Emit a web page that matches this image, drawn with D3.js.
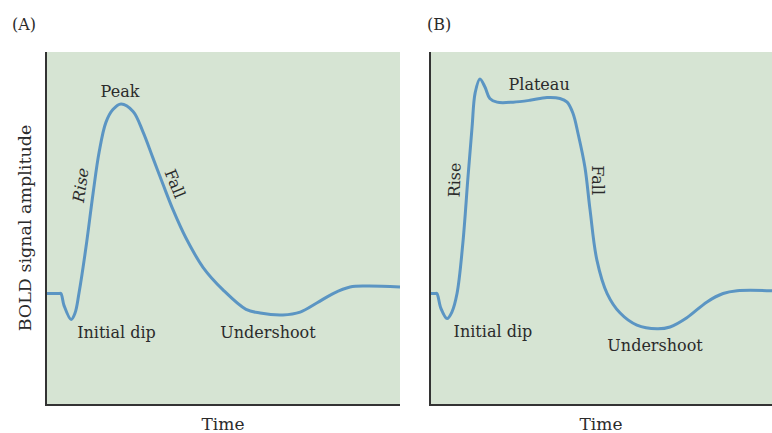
<!DOCTYPE html>
<html>
<head>
<meta charset="utf-8">
<script src="https://cdn.jsdelivr.net/npm/d3@7"></script>
<style>
  body { margin: 0; background: #fff; }
  svg text { font-family: "DejaVu Serif", serif; fill: #2b2b2b; }
</style>
</head>
<body>
<div class="container"></div>
<script>
"use strict";

var width = 772;
var height = 433;

// Time in arbitrary units (0-100), amplitude relative to baseline (0)
var peakTime = [0, 3.6, 4.2, 5.1, 7.1, 8.2, 9.3, 11.3, 13.3, 15.0, 16.9, 18.9, 21.2, 24.6, 27.4, 30.2,
    33.1, 35.9, 39.5, 44.4, 50.0, 56.5, 60.5, 66.9, 71.8, 76.6, 81.1, 85.9, 90.7, 100];
var peakAmp = [0, 0, 0, -0.065, -0.14, -0.105, 0, 0.25, 0.54, 0.76, 0.92, 0.99, 1.02, 0.98, 0.87, 0.73,
    0.585, 0.45, 0.30, 0.14, 0.02, -0.085, -0.105, -0.115, -0.10, -0.05, 0, 0.035, 0.04, 0.035];

var plateauTime = [0, 1.5, 2.0, 3.2, 5.0, 6.4, 7.9, 9.6, 11.1, 12.3, 13.2, 14.6, 16.1, 17.5, 19.6, 24.3,
    29.2, 34.2, 38.0, 40.1, 41.8, 43.3, 45.3, 46.8, 48.8, 51.8, 55.6, 60.5, 66.4, 70.2, 75.1,
    81.0, 85.7, 89.8, 100];
var plateauAmp = [0, 0, 0, -0.08, -0.135, -0.10, 0, 0.27, 0.625, 0.895, 1.08, 1.155, 1.11, 1.05, 1.03, 1.03,
    1.04, 1.055, 1.05, 1.03, 0.97, 0.86, 0.68, 0.45, 0.18, 0, -0.105, -0.17, -0.19, -0.18, -0.13,
    -0.045, 0, 0.015, 0.015];

var panelLabels = ["(A)", "(B)"];
var xLabel = "Time";
var yLabel = "BOLD signal amplitude";

var svg = d3.select(".container").append("svg")
    .attr("width", width)
    .attr("height", height);

var y = d3.scaleLinear().domain([-0.6, 1.3]).range([405, 52]);

function drawPanel(x0, x1, times, amps, label, labelX) {
    var x = d3.scaleLinear().domain([0, 100]).range([x0, x1]);
    var g = svg.append("g");

    g.append("rect")
        .attr("x", x0)
        .attr("y", y.range()[1])
        .attr("width", x1 - x0)
        .attr("height", y.range()[0] - y.range()[1])
        .attr("fill", "#d6e4d3");

    var line = d3.line()
        .x(function(d, i) { return x(times[i]); })
        .y(function(d) { return y(d); })
        .curve(d3.curveCatmullRom.alpha(0.5));

    g.append("path")
        .datum(amps)
        .attr("d", line)
        .attr("fill", "none")
        .attr("stroke", "#5b95c3")
        .attr("stroke-width", 3);

    // axes: left and bottom only
    g.append("line")
        .attr("x1", x0).attr("x2", x0)
        .attr("y1", y.range()[1]).attr("y2", y.range()[0])
        .attr("stroke", "#333").attr("stroke-width", 2);
    g.append("line")
        .attr("x1", x0 - 1).attr("x2", x1)
        .attr("y1", y.range()[0]).attr("y2", y.range()[0])
        .attr("stroke", "#333").attr("stroke-width", 2);

    g.append("text")
        .attr("x", labelX)
        .attr("y", 30)
        .style("font-size", "16px")
        .text(label);

    g.append("text")
        .attr("x", (x0 + x1) / 2)
        .attr("y", 430)
        .attr("text-anchor", "middle")
        .style("font-size", "17px")
        .text(xLabel);

    return {g: g, x: x};
}

function note(g, px, py, angle, txt) {
    return g.append("text")
        .attr("transform", "translate(" + px + "," + py + ") rotate(" + angle + ")")
        .attr("text-anchor", "middle")
        .style("font-size", "16px")
        .text(txt);
}

var a = drawPanel(46, 400, peakTime, peakAmp, panelLabels[0], 12);
note(a.g, a.x(20.9), y(1.058), 0, "Peak");
note(a.g, a.x(12.2) - 3, y(0.58), -82, "Rise").style("font-style", "italic");
note(a.g, a.x(35.0), y(0.58), 68, "Fall");
note(a.g, a.x(19.9), y(-0.24), 0, "Initial dip");
note(a.g, a.x(62.7), y(-0.24), 0, "Undershoot");

var b = drawPanel(430, 772, plateauTime, plateauAmp, panelLabels[1], 427);
note(b.g, b.x(31.9), y(1.095), 0, "Plateau");
note(b.g, b.x(8.8), y(0.61), -88, "Rise");
note(b.g, b.x(47.4), y(0.61), 90, "Fall");
note(b.g, b.x(18.4), y(-0.235), 0, "Initial dip");
note(b.g, b.x(65.8), y(-0.31), 0, "Undershoot");

svg.append("text")
    .attr("transform", "translate(31,228) rotate(-90)")
    .attr("text-anchor", "middle")
    .style("font-size", "17.5px")
    .text(yLabel);
</script>
</body>
</html>
